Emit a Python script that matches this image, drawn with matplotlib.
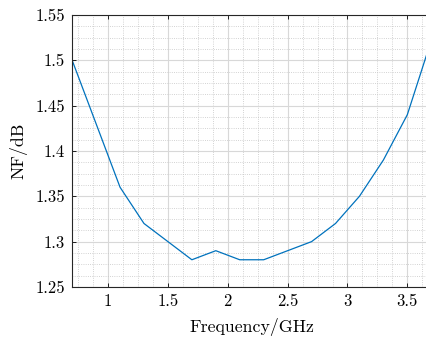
import matplotlib
matplotlib.use("Agg")
import matplotlib.pyplot as plt
from matplotlib.ticker import MultipleLocator, FormatStrFormatter

plt.rcParams['font.family'] = 'serif'
plt.rcParams['font.serif'] = ['cmr10']
plt.rcParams['axes.formatter.use_mathtext'] = True
plt.rcParams['mathtext.fontset'] = 'cm'

freq = [0.7, 1.1, 1.3, 1.7, 1.9, 2.1, 2.3, 2.7, 2.9, 3.1, 3.3, 3.5, 3.7]
nf = [1.50, 1.36, 1.32, 1.28, 1.29, 1.28, 1.28, 1.30, 1.32, 1.35, 1.39, 1.44, 1.522]

fig = plt.figure(figsize=(4.27, 3.4), dpi=100)
ax = fig.add_axes([0.169, 0.156, 0.841, 0.80])

ax.plot(freq, nf, color='#0072BD', linewidth=0.9)

ax.set_xlim(0.7, 3.7)
ax.set_ylim(1.25, 1.55)
ax.xaxis.set_major_locator(MultipleLocator(0.5))
ax.xaxis.set_minor_locator(MultipleLocator(0.125))
ax.yaxis.set_major_locator(MultipleLocator(0.05))
ax.yaxis.set_minor_locator(MultipleLocator(0.0125))
ax.xaxis.set_major_formatter(FormatStrFormatter('%g'))
ax.yaxis.set_major_formatter(FormatStrFormatter('%g'))

ax.grid(which='major', color='#d8d8d8', linewidth=0.8, linestyle='-')
ax.grid(which='minor', color='#c4c4c4', linewidth=0.6, linestyle=':')
ax.set_axisbelow(True)

ax.tick_params(which='both', direction='in', top=True, right=True, labelsize=12)
ax.tick_params(which='major', length=3, width=0.6, pad=5)
ax.tick_params(which='minor', length=0)
for s in ax.spines.values():
    s.set_linewidth(0.8)
    s.set_color('#262626')

ax.set_xlabel('Frequency/GHz', fontsize=12.8, labelpad=6)
ax.set_ylabel('NF/dB', fontsize=12.8, labelpad=6)

fig.savefig('out.png', dpi=100)
